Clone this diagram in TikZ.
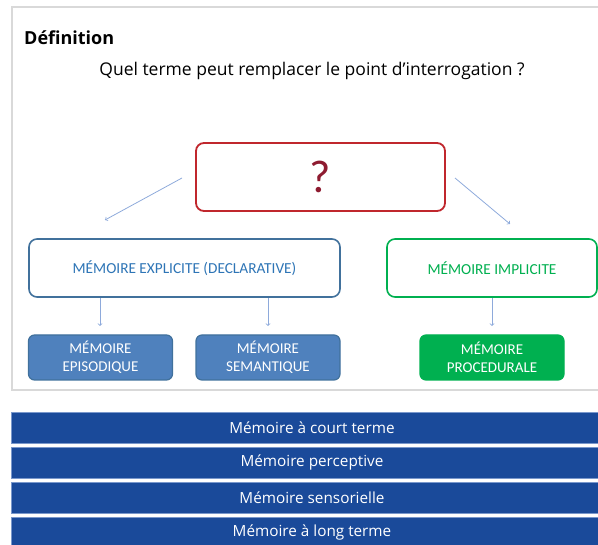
\documentclass[tikz,border=0pt]{standalone}
\usepackage{fontspec}
\setmainfont{Open Sans}
\newfontfamily\boxfont{Carlito}
\usepackage{tikz}
\pgfdeclarelayer{edgelayer}
\pgfdeclarelayer{nodelayer}
\pgfsetlayers{edgelayer,nodelayer,main}
\definecolor{framegray}{HTML}{D9D9D9}
\definecolor{qred}{HTML}{C0272D}
\definecolor{qmark}{HTML}{8E1B30}
\definecolor{linkblue}{HTML}{8EAADB}
\definecolor{steelborder}{HTML}{41719C}
\definecolor{steeltext}{HTML}{2E75B6}
\definecolor{steelfill}{HTML}{4F81BD}
\definecolor{leafgreen}{HTML}{00B050}
\definecolor{barblue}{HTML}{1A4A9A}
\definecolor{baredge}{HTML}{7A98CC}
\tikzstyle{none}=[inner sep=0pt]
\tikzstyle{title}=[anchor=west,inner sep=0pt,font=\fontsize{18}{20}\selectfont\bfseries]
\tikzstyle{prompt}=[font=\fontsize{17.5}{20}\selectfont]
\tikzstyle{question}=[rectangle,rounded corners=8pt,draw=qred,fill=white,line width=1.8pt,minimum width=249pt,minimum height=68pt,text=qmark,font=\boxfont\fontsize{46}{48}\selectfont]
\tikzstyle{explicit}=[rectangle,rounded corners=8pt,draw=steelborder,fill=white,line width=1.6pt,minimum height=58pt,text=steeltext,font=\boxfont\fontsize{15.3}{18}\selectfont]
\tikzstyle{implicit}=[explicit,draw=leafgreen,text=leafgreen]
\tikzstyle{leaf}=[rectangle,rounded corners=6pt,draw=steelborder,fill=steelfill,line width=1.2pt,minimum width=144pt,minimum height=45pt,text=white,align=center,inner sep=1pt,font=\boxfont\fontsize{15}{18}\selectfont]
\tikzstyle{greenleaf}=[leaf,draw=leafgreen,fill=leafgreen]
\tikzstyle{answer}=[rectangle,draw=baredge,fill=barblue,line width=0.8pt,minimum width=602pt,minimum height=31pt,text=white,font=\fontsize{15.3}{17}\selectfont]
\tikzstyle{transition}=[->,draw=linkblue,line width=0.8pt]

\begin{document}
\begin{tikzpicture}[x=1pt,y=-1pt]
	\useasboundingbox (0, 0) rectangle (598, 545);
	\begin{pgfonlayer}{nodelayer}
		\node [style=title] (0) at (24, 38) {Définition};
		\node [style=prompt] (1) at (312, 71) {Quel terme peut remplacer le point d'interrogation ?};
		\node [style=question] (2) at (320.5, 177) {?};
		\node [style=explicit,minimum width=311pt] (3) at (184.5, 268) {MÉMOIRE EXPLICITE (DECLARATIVE)};
		\node [style=implicit,minimum width=210pt] (4) at (492, 268) {MÉMOIRE IMPLICITE};
		\node [style=leaf] (5) at (100.5, 357.5) {MÉMOIRE\\EPISODIQUE};
		\node [style=leaf] (6) at (268, 357.5) {MÉMOIRE\\SEMANTIQUE};
		\node [style=greenleaf] (7) at (492, 357.5) {MÉMOIRE\\PROCEDURALE};
		\node [style=answer] (8) at (312, 427.5) {Mémoire à court terme};
		\node [style=answer] (9) at (312, 462.5) {Mémoire perceptive};
		\node [style=answer] (10) at (312, 497.5) {Mémoire sensorielle};
		\node [style=answer] (11) at (312, 532.5) {Mémoire à long terme};
		\node [style=none] (12) at (182, 178) {};
		\node [style=none] (13) at (105, 220) {};
		\node [style=none] (14) at (455, 178) {};
		\node [style=none] (15) at (510, 224) {};
		\node [style=none] (16) at (100, 298) {};
		\node [style=none] (17) at (100, 326) {};
		\node [style=none] (18) at (268, 298) {};
		\node [style=none] (19) at (268, 326) {};
		\node [style=none] (20) at (492, 298) {};
		\node [style=none] (21) at (492, 326) {};
	\end{pgfonlayer}
	\begin{pgfonlayer}{edgelayer}
		\draw [draw=framegray,line width=1.5pt] (12, 7) rectangle (620, 390);
		\draw [style=transition] (12.center) to (13.center);
		\draw [style=transition] (14.center) to (15.center);
		\draw [style=transition] (16.center) to (17.center);
		\draw [style=transition] (18.center) to (19.center);
		\draw [style=transition] (20.center) to (21.center);
	\end{pgfonlayer}
\end{tikzpicture}
\end{document}
